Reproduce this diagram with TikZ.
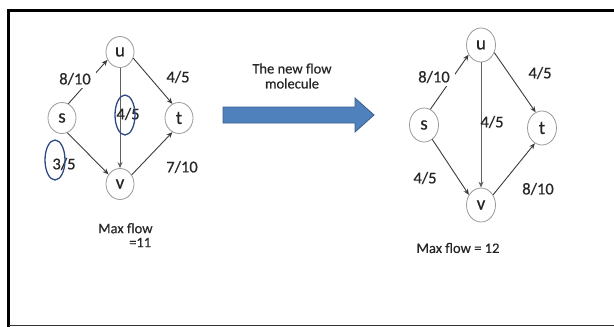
\documentclass[tikz,border=0pt]{standalone}
\usepackage{fontspec}
\setmainfont{Carlito}
\newfontfamily\lblfont[FakeBold=0.5]{Carlito}
\usetikzlibrary{shapes.geometric,arrows.meta}
\definecolor{edgec}{HTML}{3C3C3C}
\definecolor{nodec}{HTML}{9A9A9A}
\definecolor{ringc}{HTML}{2E4A86}
\definecolor{arrfill}{HTML}{4F81BD}
\definecolor{arrline}{HTML}{385D8A}
\definecolor{textc}{HTML}{262626}
\tikzset{
  vert/.style={ellipse,draw=nodec,line width=0.8pt,minimum width=28pt,minimum height=31pt,inner sep=0pt,text=textc,font=\lblfont\fontsize{19}{19}\selectfont},
  vertR/.style={vert,minimum width=29pt,minimum height=34pt},
  edge/.style={draw=edgec,line width=0.9pt,-{Stealth[length=6pt,width=5pt]}},
  edgelight/.style={edge,draw=gray!75!black},
  lbl/.style={fill=white,inner xsep=5pt,inner ysep=3pt,text=textc,font=\lblfont\fontsize{16.5}{16.5}\selectfont},
  lblt/.style={inner sep=1pt,text=textc,font=\lblfont\fontsize{16.5}{16.5}\selectfont},
  txt/.style={inner sep=0pt,text=textc,font=\lblfont\fontsize{14.5}{16}\selectfont},
  ring/.style={draw=ringc,line width=1.3pt,ellipse,minimum width=20pt,minimum height=40pt,inner sep=0pt},
}
\begin{document}
\begin{tikzpicture}[x=1pt,y=-1pt]
\useasboundingbox (0,0) rectangle (614,327);
% frame
\draw[line width=3pt] (614,10.5) -- (8.5,10.5) -- (8.5,327);
\draw[line width=1.5pt,black!80] (8.5,325.5) -- (614,325.5);
% left graph
\node[vert] (u1) at (120,52) {u};
\node[vert] (s1) at (62,118) {s};
\node[vert] (t1) at (179,118) {t};
\node[vert] (v1) at (120,184) {v};
\draw[edge] (s1.66) -- (u1.212);
\draw[edge] (u1.-25) -- (t1.115);
\draw[edgelight] (u1.south) -- (v1.north);
\draw[edge] (s1.-70) -- (v1.140);
\draw[edge] (v1.38) -- (t1.245);
\node[lbl] (a1) at (75,79) {8/10};
\node[lbl] (b1) at (178,77) {4/5};
\node[lblt] (c1) at (128,114) {4/5};
\node[lblt] (d1) at (64,164) {3/5};
\node[lblt] (e1) at (182,167) {7/10};
\node[ring] (r1) at (125,115) {};
\node[ring] (r2) at (55,160) {};
\node[txt,align=left,anchor=north west] (m1) at (98,223) {Max flow\\[-2pt]\hspace*{31pt}=11};
% block arrow
\draw[fill=arrfill,draw=arrline,line width=0.8pt] (223,107) -- (355,107) -- (355,98) -- (374,115) -- (355,132) -- (355,123) -- (223,123) -- cycle;
\node[txt,align=center] (n1) at (292,76) {The new flow\\[-1pt]molecule};
% right graph
\node[vertR] (u2) at (481,45) {u};
\node[vertR] (s2) at (424,125) {s};
\node[vertR] (t2) at (542,128) {t};
\node[vertR] (v2) at (481,205) {v};
\draw[edge] (s2.68) -- (u2.218);
\draw[edge] (u2.-30) -- (t2.112);
\draw[edgelight] (u2.south) -- (v2.north);
\draw[edge] (s2.-60) -- (v2.140);
\draw[edge] (v2.40) -- (t2.245);
\node[lbl] (a2) at (434,77) {8/10};
\node[lbl] (b2) at (540,73) {4/5};
\node[lblt] (c2) at (492,122) {4/5};
\node[lblt] (d2) at (425,178) {4/5};
\node[lblt] (e2) at (538,189) {8/10};
\node[txt] (m3) at (458,248) {Max flow = 12};
\end{tikzpicture}
\end{document}
